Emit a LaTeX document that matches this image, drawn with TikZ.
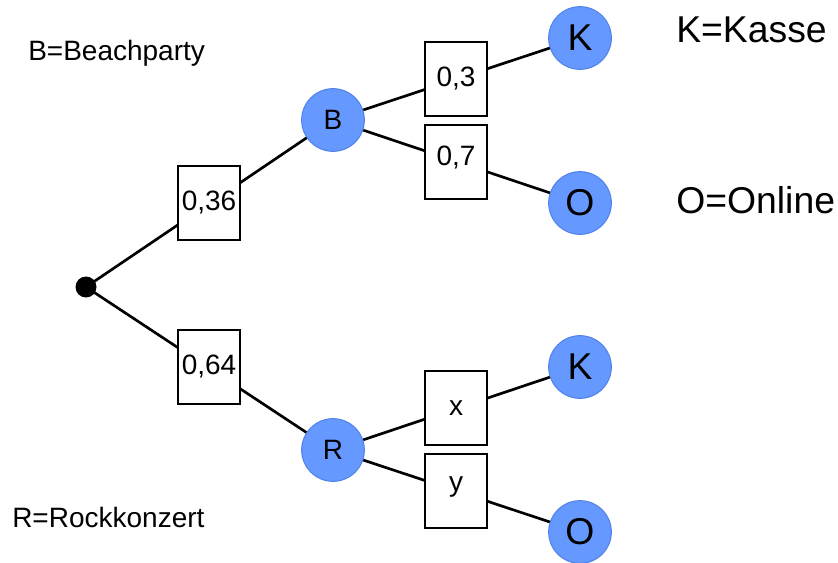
\documentclass[tikz,border=0pt]{standalone}
\usepackage{fontspec}
\setmainfont{Liberation Sans}
\usepackage{tikz}

\definecolor{knotblue}{RGB}{102,153,255}
\definecolor{knotedge}{RGB}{80,130,235}

\tikzset{
  knot/.style={circle,fill=knotblue,draw=knotedge,line width=0.8pt,minimum size=47pt,inner sep=0pt},
  prob/.style={rectangle,draw,fill=white,line width=1.4pt,minimum width=47pt,minimum height=56pt,inner sep=0pt,font=\fontsize{21}{25}\selectfont},
  legend/.style={anchor=west,inner sep=0pt}
}

\begin{document}
\begin{tikzpicture}[x=0.75pt,y=-0.75pt]
\useasboundingbox (0,0) rectangle (838,563);

\fill (86,287) circle (10.5) coordinate (start);
\node[knot,font=\fontsize{21}{25}\selectfont] (B) at (333,120) {B}; \node[knot,font=\fontsize{21}{25}\selectfont] (R) at (333,450) {R};
\node[knot,font=\fontsize{28}{32}\selectfont] (K1) at (580,38) {K}; \node[knot,font=\fontsize{28}{32}\selectfont] (O1) at (580,203) {O};
\node[knot,font=\fontsize{28}{32}\selectfont] (K2) at (580,367) {K}; \node[knot,font=\fontsize{28}{32}\selectfont] (O2) at (580,532) {O};

\draw [line width=2pt] (start) -- (B); \draw [line width=2pt] (start) -- (R);
\draw [line width=2pt] (B) -- (K1); \draw [line width=2pt] (B) -- (O1);
\draw [line width=2pt] (R) -- (K2); \draw [line width=2pt] (R) -- (O2);

\node[prob] (pB) at (209,203) {0,36}; \node[prob] (pR) at (209,367) {0,64};
\node[prob] (pBK) at (456,79) {0,3}; \node[prob] (pBO) at (456,162) {\raisebox{9pt}{0,7}};
\node[prob] (pRK) at (456,408) {x}; \node[prob] (pRO) at (456,491) {\raisebox{11pt}{y}};

\node[legend,font=\fontsize{21}{25}\selectfont] (legB) at (28,53) {B=Beachparty};
\node[legend,font=\fontsize{21}{25}\selectfont] (legR) at (12,517) {R=Rockkonzert};
\node[legend,font=\fontsize{28}{32}\selectfont] (legK) at (676,30) {K=Kasse};
\node[legend,font=\fontsize{28}{32}\selectfont] (legO) at (676,200) {O=Online};

\end{tikzpicture}
\end{document}
